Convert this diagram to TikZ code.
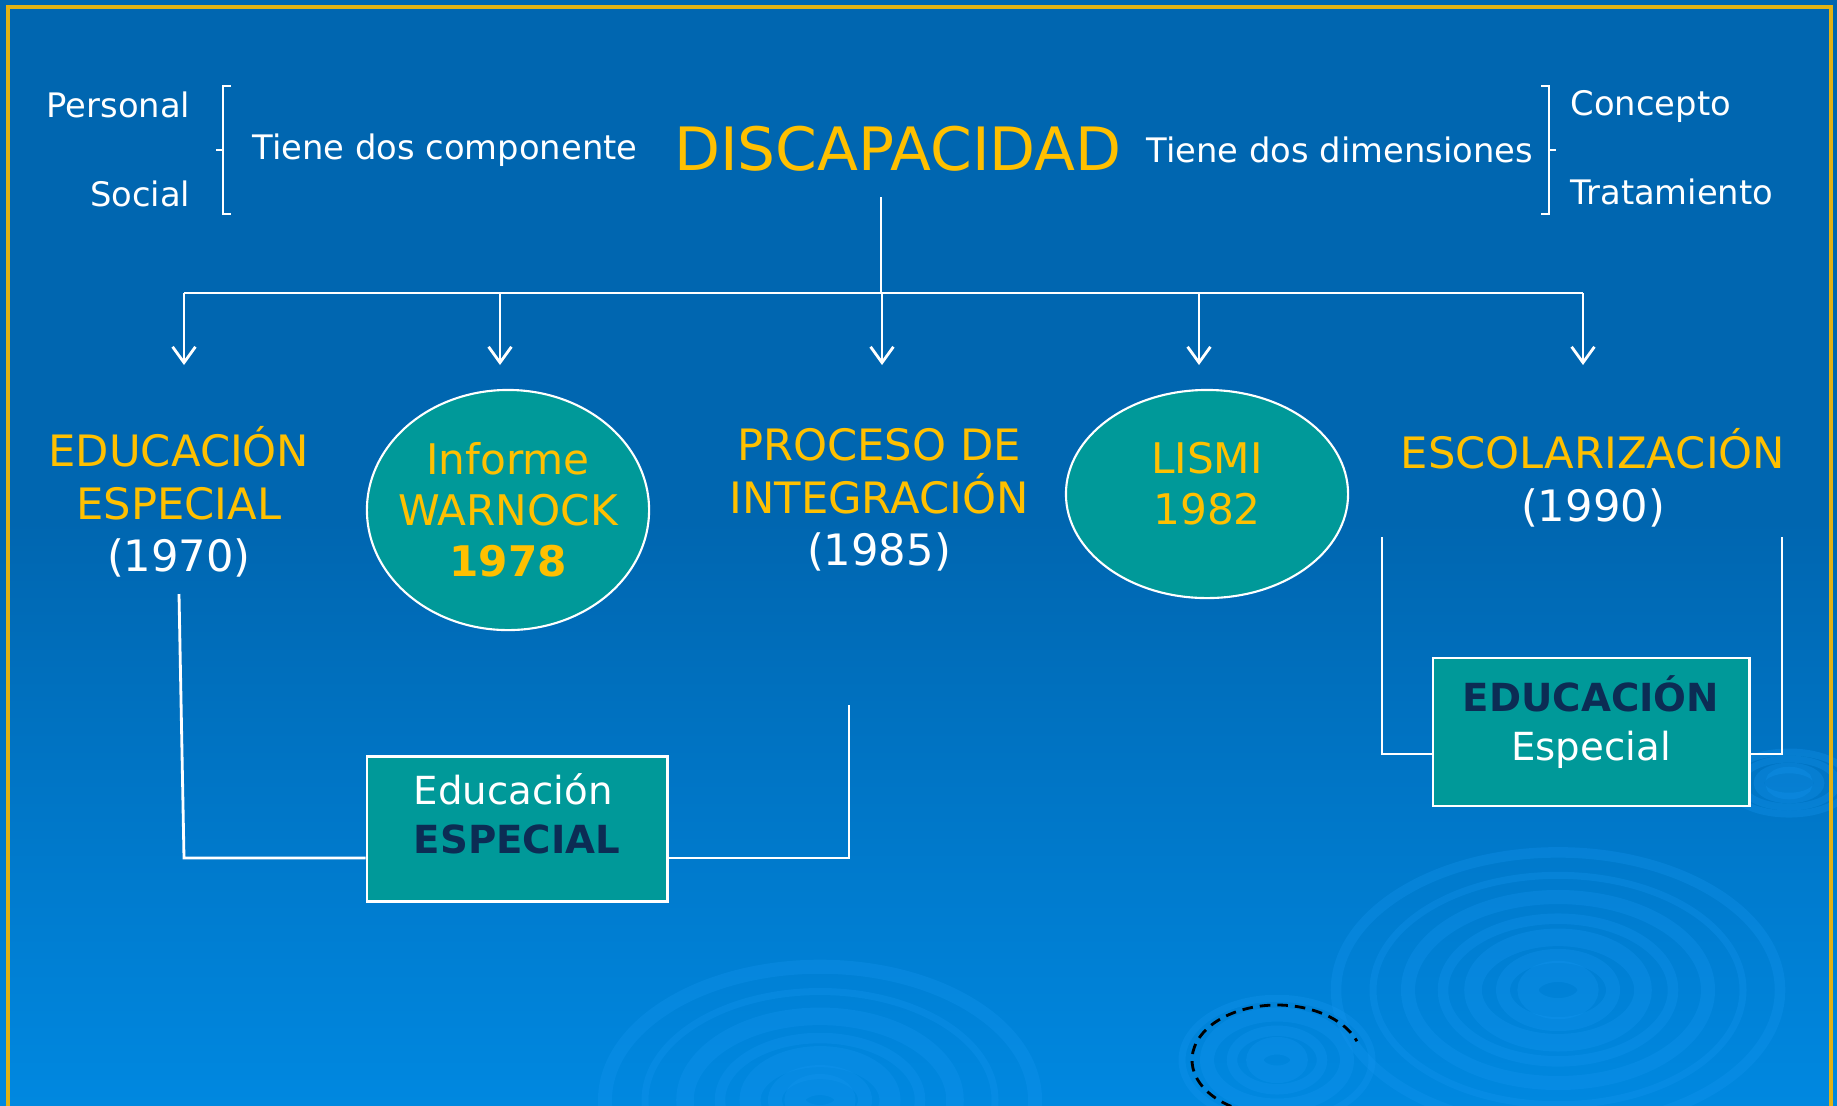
\documentclass[tikz,border=0pt]{standalone}
\usepackage{fontspec}
\setmainfont{DejaVu Sans}
\usetikzlibrary{shapes.geometric,arrows.meta}
\definecolor{fondoalto}{RGB}{0,102,176}
\definecolor{fondobajo}{RGB}{0,136,224}
\definecolor{oro}{RGB}{255,192,0}
\definecolor{marco}{RGB}{226,178,20}
\definecolor{turq}{RGB}{0,153,153}
\definecolor{marino}{RGB}{12,44,84}
\definecolor{onda}{RGB}{20,150,240}

\begin{document}
\begin{tikzpicture}[x=0.01cm,y=-0.01cm,
    txt/.style={text=white,inner sep=0pt,font=\fontsize{9.6}{11}\selectfont},
    titulo/.style={text=oro,inner sep=0pt,font=\fontsize{17}{20}\selectfont},
    hito/.style={text=oro,align=center,inner sep=0pt,font=\fontsize{12.3}{15}\selectfont},
    burbuja/.style={ellipse,draw=white,line width=0.6pt,fill=turq,minimum width=2.82cm,
        minimum height=2.4cm,inner xsep=-6pt,inner ysep=0pt,text=oro,align=center,
        font=\fontsize{12}{14.5}\selectfont},
    caja/.style={draw=white,line width=0.8pt,fill=turq,minimum width=3cm,minimum height=1.45cm,
        inner sep=0pt,text=white,text depth=8pt,font=\fontsize{11}{14}\selectfont},
    linea/.style={white,line width=0.8pt},
    >={Straight Barb[length=4.5pt,width=6.5pt]}]
    \useasboundingbox (0,0) rectangle (1837,1105);
    \fill[fondoalto] (0,0) rectangle (1837,1105);
    \shade[top color=fondoalto,bottom color=fondobajo] (0,520) rectangle (1837,1105);

    % ondas del fondo
    \begin{scope}[onda,opacity=.3]
        \foreach \r/\w in {25/6,45/4,70/6,100/3,135/5,175/2,215/4}
            \draw[line width=\w pt] (820,1100) ellipse [x radius=\r,y radius=.62*\r];
        \foreach \r/\w in {22/5,45/3,70/4,95/2}
            \draw[line width=\w pt] (1277,1060) ellipse [x radius=\r,y radius=.65*\r];
        \foreach \r/\w in {30/6,55/4,85/5,115/3,150/4,185/2,222/3}
            \draw[line width=\w pt] (1558,990) ellipse [x radius=\r,y radius=.62*\r];
        \foreach \r/\w in {15/5,30/3,48/2,62/2}
            \draw[line width=\w pt] (1789,783) ellipse [x radius=\r,y radius=.5*\r];
    \end{scope}
    \draw[black,densely dashed,line width=0.8pt] (1277,1060) ++(110:85 and 55) arc [start angle=110,end angle=340,x radius=85,y radius=55];
    \draw[marco,line width=1pt] (8,7) rectangle (1831,1130);

    % fila de arriba
    \node[txt,anchor=east] (personal) at (191,105) {Personal};
    \node[txt,anchor=east] (social) at (191,194) {Social};
    \node[txt,anchor=west] (componente) at (252,150) {Tiene dos componente};
    \node[titulo] (disc) at (898,149) {DISCAPACIDAD};
    \node[txt,anchor=west] (dimensiones) at (1146,150) {Tiene dos dimensiones};
    \node[txt,anchor=west] (concepto) at (1570,106) {Concepto};
    \node[txt,anchor=west] (tratamiento) at (1570,192) {Tratamiento};
    \draw[linea] (231,86) -- (223,86) -- (223,214) -- (231,214) (223,150) -- (216,150);
    \draw[linea] (1541,86) -- (1549,86) -- (1549,214) -- (1541,214) (1549,150) -- (1556,150);

    % ramas
    \coordinate (raiz) at (881,197);
    \coordinate (nudo) at (881,293);
    \coordinate (izq) at (184,293);
    \coordinate (der) at (1583,293);
    \draw[linea] (raiz) -- (nudo);
    \draw[linea] (izq) -- (der);
    \foreach \x [count=\i] in {184,500,882,1199,1583} {
        \coordinate (punta\i) at (\x,365);
        \draw[linea,->] (punta\i |- nudo) -- (punta\i);
    }

    % hitos
    \node[hito] (edu) at (179,502) {EDUCACIÓN\\ESPECIAL\\\textcolor{white}{(1970)}};
    \node[burbuja] (warnock) at (508,510) {Informe\\WARNOCK\\\textbf{1978}};
    \node[hito] (proceso) at (879,500) {PROCESO DE\\INTEGRACIÓN\\\textcolor{white}{(1985)}};
    \node[burbuja,minimum height=2.08cm,text depth=6pt] (lismi) at (1207,494) {LISMI\\1982};
    \node[hito] (escolar) at (1593,478) {ESCOLARIZACIÓN\\\textcolor{white}{(1990)}};

    % cajas de abajo
    \node[caja,align=left,text depth=9pt] (caja1) at (517,829) {Educación\\\textcolor{marino}{\textbf{ESPECIAL}}};
    \node[caja,align=center,minimum width=3.16cm,minimum height=1.48cm] (caja2) at (1591,732)
        {\textcolor{marino}{\textbf{EDUCACIÓN}}\\Especial};

    \coordinate (e1) at (179,594);
    \coordinate (e2) at (184,858);
    \coordinate (p1) at (849,705);
    \coordinate (p2) at (849,858);
    \draw[linea] (e1) -- (e2) -- (e2 -| caja1.west);
    \draw[linea] (caja1.east |- p2) -- (p2) -- (p1);

    \coordinate (s1) at (1382,537);
    \coordinate (s2) at (1382,754);
    \coordinate (s3) at (1782,754);
    \coordinate (s4) at (1782,537);
    \draw[linea] (s1) -- (s2) -- (s2 -| caja2.west);
    \draw[linea] (caja2.east |- s3) -- (s3) -- (s4);
\end{tikzpicture}
\end{document}
